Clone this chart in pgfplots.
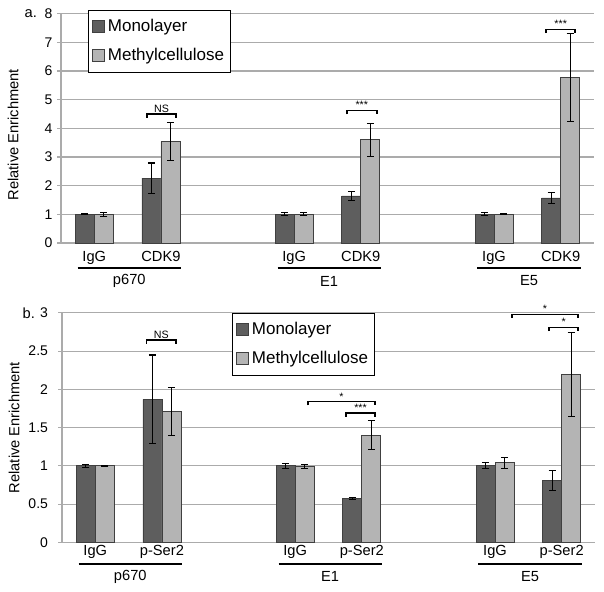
\documentclass[border=0pt]{standalone}
\usepackage{pgfplots}
\usepackage{pgfplotstable}
\pgfplotsset{compat=1.18}
\usepackage{fontspec}
\setmainfont{Liberation Sans}
\definecolor{darkbar}{HTML}{5E5E5E}
\definecolor{lightbar}{HTML}{B4B4B4}
\definecolor{gridc}{HTML}{ABABAB}

\pgfplotstableread{
x y e
0 1.00 0.02
1 2.26 0.53
3 1.00 0.05
4 1.64 0.15
6 1.00 0.05
7 1.57 0.19
}\aDark
\pgfplotstableread{
x y e
0 1.00 0.07
1 3.54 0.66
3 1.00 0.05
4 3.60 0.58
6 1.00 0.02
7 5.78 1.53
}\aLight
\pgfplotstableread{
x y e
0 1.00 0.02
1 1.87 0.58
3 1.00 0.03
4 0.57 0.01
6 1.00 0.04
7 0.81 0.13
}\bDark
\pgfplotstableread{
x y e
0 1.00 0.01
1 1.71 0.31
3 0.99 0.03
4 1.40 0.19
6 1.04 0.07
7 2.19 0.55
}\bLight

\newcommand{\brk}[5]{%
  \draw[line width=1.3pt] ([yshift=-2.8pt]axis cs:#1,#3) -- (axis cs:#1,#3) -- (axis cs:#2,#3) -- ([yshift=-2.8pt]axis cs:#2,#3);
  \node[anchor=south, inner sep=1pt, font=\fontsize{8}{9}\selectfont] at (axis cs:#4,#3) {#5};}
% group underline: x1, x2, xmid, label, line shift, label shift
\newcommand{\grp}[6]{%
  \draw[line width=1.6pt] ([yshift=-#5]axis cs:#1,0) -- ([yshift=-#5]axis cs:#2,0);
  \node[font=\fontsize{11}{13}\selectfont] at ([yshift=-#6]axis cs:#3,0) {#4};}

\pgfplotsset{
  panel/.style={
    scale only axis, width=399.75pt, height=172pt,
    xmin=-0.5, xmax=7.5, ymin=0,
    clip=false,
    axis x line=bottom, axis y line=left,
    axis line style={-, draw=gridc, line width=0.8pt},
    tick align=outside,
    ymajorgrids, grid style={gridc, line width=0.8pt},
    ytick style={draw=gridc, line width=0.8pt}, major tick length=3pt,
    xtick={0,1,3,4,6,7},
    x tick style={draw=none},
    extra x ticks={-0.5,0.5,1.5,2.5,3.5,4.5,5.5,6.5,7.5},
    extra x tick labels={},
    extra x tick style={grid=none, tick style={draw=gridc, line width=0.8pt}, major tick length=4pt},
    /pgf/number format/assume math mode=true,
    ticklabel style={font=\fontsize{10.5}{12}\selectfont},
    xticklabel style={font=\fontsize{11}{13}\selectfont},
    every axis y label/.style={at={(axis description cs:-0.09,0.5)}, rotate=90, anchor=center, font=\fontsize{11}{13}\selectfont},
    ylabel={Relative Enrichment},
    bar width=0.285,
    legend cell align=left,
    legend image code/.code={\draw[#1] (0pt,-4.5pt) rectangle (9pt,4.5pt);},
    legend style={draw=black, line width=0.6pt, font=\fontsize{12.75}{15}\selectfont, inner xsep=3pt, inner ysep=5pt, row sep=7pt, anchor=north west},
  },
  barst/.style={ybar, bar shift=0, draw=black!75, line width=0.6pt, mark=none,
    error bars/.cd, y dir=both, y explicit,
    error bar style={black, line width=0.6pt},
    error mark options={rotate=90, mark size=2.6pt, black, line width=0.8pt},
    /pgfplots/.cd},
}

\begin{document}
\begin{tikzpicture}
\useasboundingbox (0,0) rectangle (453pt,444pt);
% ---------------- panel a
\begin{axis}[panel, at={(45.75pt,261.75pt)},
  ymax=8, ytick={0,1,...,8},
  xticklabels={IgG,CDK9,IgG,CDK9,IgG,CDK9},
  every axis y label/.append style={at={(axis description cs:-0.09,0.472)}},
  legend style={at={(axis description cs:0.0507,1.0175)}}]
\addplot[fill=darkbar, barst] table[x expr=\thisrow{x}-0.1425, y=y, y error=e] {\aDark};
\addlegendentry{Monolayer}
\addplot[fill=lightbar, barst] table[x expr=\thisrow{x}+0.1425, y=y, y error=e] {\aLight};
\addlegendentry{Methylcellulose}
\brk{0.79}{1.23}{4.5}{1.01}{NS}
\brk{3.79}{4.24}{4.62}{4.015}{***}
\brk{6.78}{7.22}{7.45}{7.0}{***}
\grp{-0.25}{1.3}{0.525}{p670}{19pt}{28.5pt}
\grp{2.75}{4.3}{3.525}{E1}{19pt}{28.5pt}
\grp{5.75}{7.3}{6.525}{E5}{19pt}{28.5pt}
\node[anchor=west, font=\fontsize{11}{13}\selectfont] at (axis description cs:-0.077,1) {a.};
\end{axis}
% ---------------- panel b
\begin{axis}[panel, at={(46.5pt,37.3pt)},
  ymax=3, ytick={0,0.5,...,3},
  yticklabel style={xshift=-4pt},
  xticklabels={IgG,p-Ser2,IgG,p-Ser2,IgG,p-Ser2},
  xticklabel style={yshift=4pt},
  legend style={at={(axis description cs:0.319,1.0)}}]
\addplot[fill=darkbar, barst] table[x expr=\thisrow{x}-0.1425, y=y, y error=e] {\bDark};
\addlegendentry{Monolayer}
\addplot[fill=lightbar, barst] table[x expr=\thisrow{x}+0.1425, y=y, y error=e] {\bLight};
\addlegendentry{Methylcellulose}
\brk{0.77}{1.21}{2.645}{0.99}{NS}
\brk{3.19}{4.20}{1.84}{3.695}{*}
\brk{3.76}{4.20}{1.69}{3.98}{***}
\brk{6.25}{7.25}{2.98}{6.75}{*}
\brk{6.81}{7.25}{2.81}{7.03}{*}
\grp{-0.25}{1.3}{0.525}{p670}{16.3pt}{25.8pt}
\grp{2.75}{4.3}{3.525}{E1}{16.3pt}{25.8pt}
\grp{5.75}{7.3}{6.525}{E5}{16.3pt}{25.8pt}
\node[anchor=west, font=\fontsize{11}{13}\selectfont] at (axis description cs:-0.0826,1) {b.};
\end{axis}
\end{tikzpicture}
\end{document}
